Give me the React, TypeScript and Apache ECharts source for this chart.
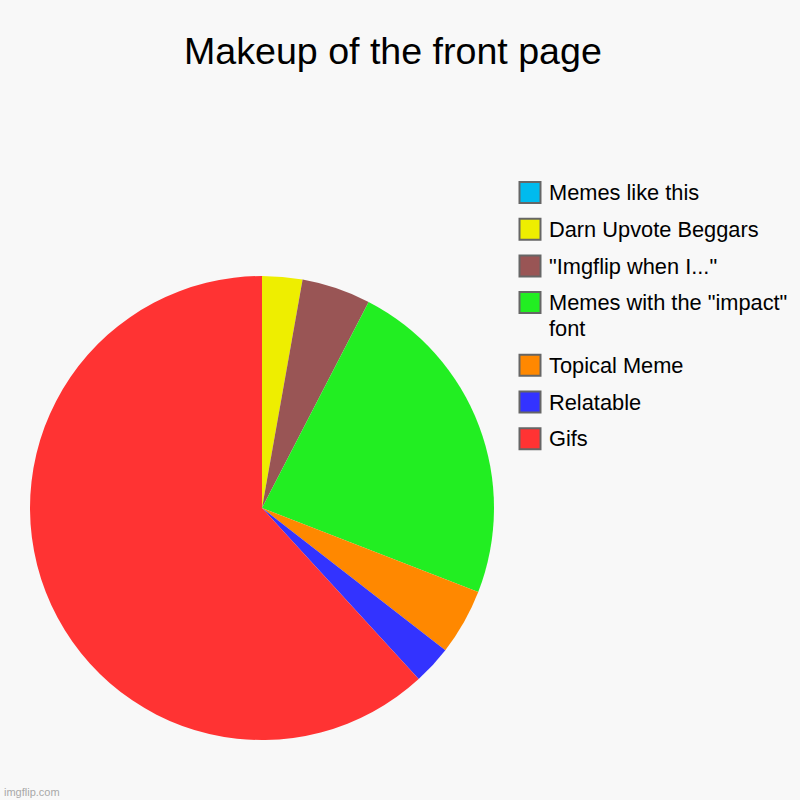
import { useEffect, useRef } from 'react'
import * as echarts from 'echarts'

const FONT = '"Liberation Sans", Arial, Helvetica, sans-serif'

// slices, clockwise from 12 o'clock (same order as the legend, top to bottom)
const categories = [
  'Memes like this',
  'Darn Upvote Beggars',
  '"Imgflip when I..."',
  'Memes with the "impact" font',
  'Topical Meme',
  'Relatable',
  'Gifs',
]
const values = [0, 2.8, 4.8, 23.3, 4.6, 2.7, 61.8]
const colors = ['#00bbee', '#eeee00', '#995555', '#22ee22', '#ff8800', '#3333ff', '#ff3333']

function wrap(s: string, max: number) {
  const lines: string[] = []; let cur = ''
  s.split(' ').forEach(w => {
    if (cur && (cur + ' ' + w).length > max) { lines.push(cur); cur = w } else cur = cur ? cur + ' ' + w : w
  })
  if (cur) lines.push(cur)
  return lines
}

export default function App() {
  const ref = useRef<HTMLDivElement>(null)

  useEffect(() => {
    if (!ref.current) return
    const chart = echarts.init(ref.current, null, { renderer: 'svg' })

    // legend drawn by hand so the swatch sits on the first text line
    const legend: any[] = []
    let y = 181
    categories.forEach((c, i) => {
      const lines = wrap(c, 24)
      legend.push({ type: 'rect', shape: { x: 519.5, y: y + 1, width: 21, height: 21 }, style: { fill: colors[i], stroke: '#666666', lineWidth: 2 } })
      legend.push({ type: 'text', x: 549, y: y + 11.5 - 12.5, style: { text: lines.join('\n'), font: '21.8px ' + FONT, fill: '#000', lineHeight: 25.5, verticalAlign: 'top' } })
      y += 36.7 + (lines.length - 1) * 26
    })

    chart.setOption({
      animation: false,
      backgroundColor: '#f8f8f8',
      title: { text: 'Makeup of the front page', left: 179, top: 27, textStyle: { fontSize: 37.6, fontWeight: 'normal', color: '#000', fontFamily: FONT } },
      series: [{
        type: 'pie', center: [262, 508], radius: 232, startAngle: 90, clockwise: true,
        label: { show: false }, labelLine: { show: false }, silent: true,
        data: categories.map((c, i) => ({ name: c, value: values[i], itemStyle: { color: colors[i] } })),
      }],
      graphic: [
        ...legend,
        { type: 'text', x: 4, y: 786, style: { text: 'imgflip.com', font: '11px ' + FONT, fill: '#a8a8a8' } },
      ],
    })
    return () => chart.dispose()
  }, [])

  return <div ref={ref} style={{ position: 'absolute', left: 0, top: 0, width: 800, height: 800 }} />
}
